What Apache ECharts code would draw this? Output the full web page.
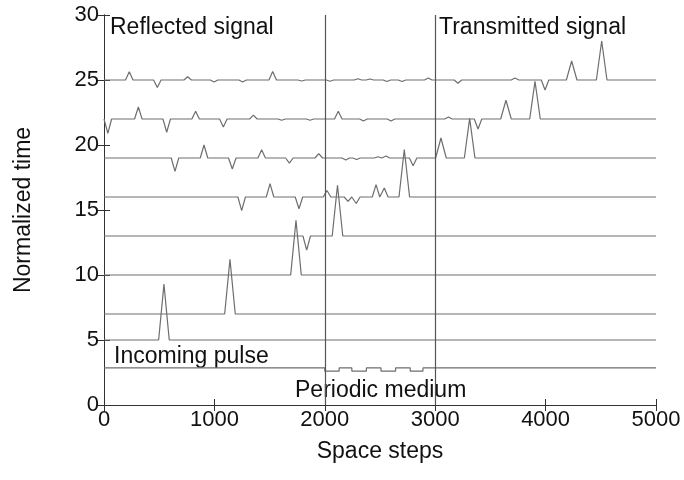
<!DOCTYPE html>
<html>
<head>
<meta charset="utf-8">
<script src="https://cdn.jsdelivr.net/npm/echarts@6/dist/echarts.min.js"></script>
<style>
html,body{margin:0;padding:0;background:#fff}
#chart{width:684px;height:480px}
</style>
</head>
<body>
<div id="chart"></div>
<script>
// normalized time of each stacked snapshot (its baseline)
const traceTimes = [25, 22, 19, 16, 13, 10, 7, 5]

// pulses of each snapshot: [space step, amplitude]
const pulses25 = [[229,0.64],[483,-0.57],[758,0.25],[997,-0.15],[1256,-0.15],[1528,0.66],[1790,-0.08],[2047,-0.1],[2300,0.1],[2409,0.08],[2563,-0.12],[2700,-0.12],[2937,0.15],[3206,-0.25],[3723,0.15],[3995,-0.77],[4236,1.46],[4508,3.0]]
const pulses22 = [[35,-1.1],[311,0.92],[568,-1.02],[830,0.6],[1081,-0.62],[1353,0.3],[1609,-0.1],[1866,-0.1],[2122,0.6],[2350,-0.15],[2600,-0.15],[3120,0.15],[3388,-0.77],[3641,1.44],[3904,2.9]]
const pulses19 = [[643,-1.03],[906,1.0],[1162,-0.85],[1428,0.64],[1679,-0.4],[1945,0.33],[2190,-0.15],[2288,-0.12],[2482,0.1],[2554,0.15],[2800,-0.6],[3052,1.54],[3312,3.05]]
const pulses16 = [[1247,-1.05],[1504,1.03],[1766,-0.9],[2020,0.5],[2210,-0.33],[2285,-0.5],[2464,0.95],[2539,0.7],[2720,3.65]]
const pulses13 = [[1836,-1.08],[2115,3.9]]
const pulses10 = [[1739,4.2]]
const pulses7 = [[1141,4.2]]
const pulses5 = [[543,4.3]]
const allPulses = [pulses25, pulses22, pulses19, pulses16, pulses13, pulses10, pulses7, pulses5]

// periodic medium profile
const mediumLevel = 2.85
const mediumDip = -0.25
const mediumLowSpans = [[2000,2130],[2245,2377],[2509,2641],[2774,2889]]
const mediumEdges = [2000, 3000]

const FONT = 'Liberation Sans, Arial, Helvetica, sans-serif'
const LINE = '#6e6e6e'
const AXIS = '#333'

function buildTrace(base, pulses) {
  let pts = [[0, base]]
  pulses.forEach(function (p) {
    let w = Math.abs(p[1]) > 1.2 ? 48 : 34
    pts.push([p[0] - w, base], [p[0], base + p[1]], [p[0] + w, base])
  })
  pts.push([5000, base])
  return pts
}

function buildMedium() {
  let pts = [[0, mediumLevel]]
  mediumLowSpans.forEach(function (s) {
    pts.push([s[0], mediumLevel], [s[0], mediumLevel + mediumDip], [s[1], mediumLevel + mediumDip], [s[1], mediumLevel])
  })
  pts.push([5000, mediumLevel])
  return pts
}

let series = traceTimes.map(function (t, i) {
  return {
    type: 'line', data: buildTrace(t, allPulses[i]), symbol: 'none',
    lineStyle: { color: LINE, width: 1.2 }, silent: true, animation: false
  }
})
series.push({
  type: 'line', data: buildMedium(), symbol: 'none',
  lineStyle: { color: LINE, width: 1.2 }, animation: false,
  markLine: {
    symbol: 'none', silent: true, animation: false,
    label: { show: false },
    lineStyle: { color: '#555', width: 1.2, type: 'solid' },
    data: mediumEdges.map(function (x) { return { xAxis: x } })
  }
})

const axisCommon = {
  axisLine: { show: true, lineStyle: { color: AXIS, width: 1 } },
  axisTick: { show: true, inside: true, length: 6, lineStyle: { color: AXIS } },
  splitLine: { show: false }
}

let chart = echarts.init(document.getElementById('chart'), null, { renderer: 'canvas' })
chart.setOption({
  backgroundColor: '#fff',
  animation: false,
  grid: { left: 104, right: 28, top: 15, bottom: 75 },
  xAxis: [
    Object.assign({
      type: 'value', min: 0, max: 5000, interval: 1000, position: 'bottom',
      name: 'Space steps', nameLocation: 'middle', nameGap: 35,
      nameTextStyle: { fontFamily: FONT, fontSize: 23, color: '#111' },
      axisLabel: { margin: 4, fontFamily: FONT, fontSize: 22, color: '#111', formatter: function (v) { return String(v) } }
    }, axisCommon),
    Object.assign({
      type: 'value', min: 0, max: 5000, interval: 1000, position: 'top',
      axisLabel: { show: false }
    }, axisCommon)
  ],
  yAxis: [
    Object.assign({
      type: 'value', min: 0, max: 30, interval: 5, position: 'left',
      name: 'Normalized time', nameLocation: 'middle', nameGap: 69, nameRotate: 90,
      nameTextStyle: { fontFamily: FONT, fontSize: 23, color: '#111' },
      axisLabel: { margin: 5, fontFamily: FONT, fontSize: 22, color: '#111' }
    }, axisCommon),
    Object.assign({
      type: 'value', min: 0, max: 30, interval: 5, position: 'right',
      axisLabel: { show: false }
    }, axisCommon)
  ],
  graphic: [
    { type: 'text', left: 110, top: 16, style: { text: 'Reflected signal', font: '23px ' + FONT, fill: '#111' } },
    { type: 'text', left: 439, top: 16, style: { text: 'Transmitted signal', font: '23px ' + FONT, fill: '#111' } },
    { type: 'text', left: 114, top: 345, style: { text: 'Incoming pulse', font: '23px ' + FONT, fill: '#111' } },
    { type: 'text', left: 295, top: 379, style: { text: 'Periodic medium', font: '23px ' + FONT, fill: '#111' } }
  ],
  series: series
})
</script>
</body>
</html>
